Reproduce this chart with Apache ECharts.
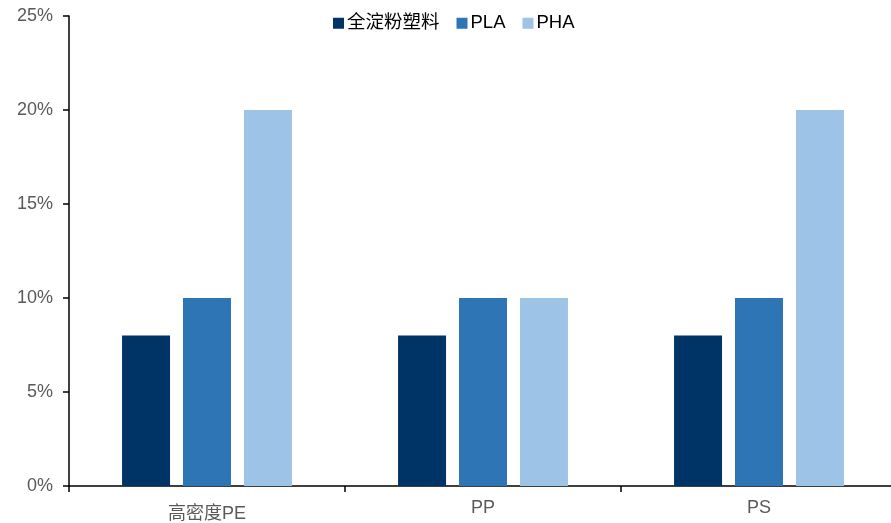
<!DOCTYPE html>
<html>
<head>
<meta charset="utf-8">
<script src="https://cdn.jsdelivr.net/npm/echarts@6/dist/echarts.min.js"></script>
<style>
html,body{margin:0;padding:0;background:#fff;}
#chart{width:891px;height:523px;}
</style>
</head>
<body>
<div id="chart"></div>
<script>
// Categories and series values (percent)
const categories = ['高密度PE', 'PP', 'PS'];
const seriesNames = ['全淀粉塑料', 'PLA', 'PHA'];
const starchValues = [8, 8, 8];
const plaValues = [10, 10, 10];
const phaValues = [20, 10, 20];
const colors = ['#003366', '#2E75B6', '#9DC3E6'];

const chart = echarts.init(document.getElementById('chart'));
const font = 'Liberation Sans, Arial, Noto Sans CJK SC, sans-serif';

// the Chinese label sits a little lower than the Latin ones
const categoryData = categories.map((c, i) =>
  i === 0 ? { value: c, textStyle: { padding: [6, 0, 0, 0] } } : c
);

chart.setOption({
  animation: false,
  textStyle: { fontFamily: font },
  legend: {
    top: 9,
    left: 328,
    itemWidth: 11,
    itemHeight: 11,
    itemGap: 17,
    icon: 'rect',
    textStyle: { fontSize: 18.5, color: '#000', fontFamily: font, padding: [0, 0, 0, -2] },
    data: seriesNames
  },
  grid: { left: 69, right: -6, top: 16, bottom: 37, containLabel: false, outerBoundsMode: 'none' },
  xAxis: {
    type: 'category',
    data: categoryData,
    axisLine: { lineStyle: { color: '#000', width: 1.5 } },
    axisTick: { show: true, length: 6, lineStyle: { color: '#000', width: 1.5 } },
    axisLabel: { color: '#595959', fontSize: 18, margin: 13, fontFamily: font }
  },
  yAxis: {
    type: 'value',
    min: 0,
    max: 25,
    interval: 5,
    axisLine: { show: true, lineStyle: { color: '#000', width: 1.5 } },
    axisTick: { show: true, length: 6, lineStyle: { color: '#000', width: 1.5 } },
    splitLine: { show: false },
    axisLabel: { color: '#595959', fontSize: 18, margin: 16, formatter: '{value}%', fontFamily: font }
  },
  series: [
    { name: seriesNames[0], type: 'bar', data: starchValues, barWidth: 48, barGap: '27%', itemStyle: { color: colors[0] } },
    { name: seriesNames[1], type: 'bar', data: plaValues, barWidth: 48, barGap: '27%', itemStyle: { color: colors[1] } },
    { name: seriesNames[2], type: 'bar', data: phaValues, barWidth: 48, barGap: '27%', itemStyle: { color: colors[2] } }
  ]
});
</script>
</body>
</html>
